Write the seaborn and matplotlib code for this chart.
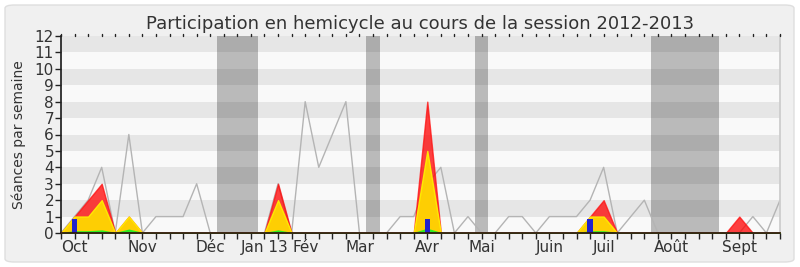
import matplotlib
matplotlib.use("Agg")
import matplotlib.pyplot as plt
from matplotlib.patches import FancyBboxPatch
import numpy as np
import pandas as pd
import seaborn as sns

# Weekly values for the 2012-2013 session (week index 0..53)
weeks = list(range(54))
seances_total = [0, 1, 2, 4, 0, 6, 0, 1, 1, 1, 3, 0, 0, 0, 0, 0, 3, 0, 8, 4,
                 6, 8, 0, 0, 0, 1, 1, 3, 4, 0, 1, 0, 0, 1, 1, 0, 1, 1, 1, 2,
                 4, 0, 1, 2, 0, 0, 0, 0, 0, 0, 0, 1, 0, 2]
presences = [0, 1, 2, 3, 0, 1, 0, 0, 0, 0, 0, 0, 0, 0, 0, 0, 3, 0, 0, 0,
             0, 0, 0, 0, 0, 0, 0, 8, 0, 0, 0, 0, 0, 0, 0, 0, 0, 0, 0, 1,
             2, 0, 0, 0, 0, 0, 0, 0, 0, 0, 1, 0, 0, 0]
interventions = [0, 1, 1, 2, 0, 1, 0, 0, 0, 0, 0, 0, 0, 0, 0, 0, 2, 0, 0, 0,
                 0, 0, 0, 0, 0, 0, 0, 5, 0, 0, 0, 0, 0, 0, 0, 0, 0, 0, 0, 1,
                 1, 0, 0, 0, 0, 0, 0, 0, 0, 0, 0, 0, 0, 0]
questions = [0, 0.1, 0.1, 0.15, 0, 0.2, 0, 0, 0, 0, 0, 0, 0, 0, 0, 0, 0.15, 0, 0, 0,
             0, 0, 0, 0, 0, 0, 0, 0.25, 0, 0, 0, 0, 0, 0, 0, 0, 0, 0, 0, 0.1,
             0.1, 0, 0, 0, 0, 0, 0, 0, 0, 0, 0, 0, 0, 0]
rapports = [0, 0.85, 0, 0, 0, 0, 0, 0, 0, 0, 0, 0, 0, 0, 0, 0, 0, 0, 0, 0,
            0, 0, 0, 0, 0, 0, 0, 0.85, 0, 0, 0, 0, 0, 0, 0, 0, 0, 0, 0, 0.85,
            0, 0, 0, 0, 0, 0, 0, 0, 0, 0, 0, 0, 0, 0]

month_weeks = [1, 6, 11, 15, 18, 22, 27, 31, 36, 40, 45, 50]
month_labels = ["Oct", "Nov", "Déc", "Jan 13", "Fév", "Mar", "Avr", "Mai",
                "Juin", "Juil", "Août", "Sept"]
vacances = [(11.5, 14.5), (22.5, 23.5), (30.5, 31.5), (43.5, 48.5)]

df = pd.DataFrame({"semaine": weeks, "total": seances_total,
                   "presences": presences, "interventions": interventions,
                   "questions": questions, "rapports": rapports})

sns.set_theme(style="white")
plt.rcParams["font.family"] = ["DejaVu Sans"]
text_color = "#333333"

fig = plt.figure(figsize=(8, 2.67), dpi=100, facecolor="white")
frame = FancyBboxPatch((5 / 800, 5 / 267), 789 / 800, 257 / 267,
                       boxstyle="round,pad=0,rounding_size=0.012",
                       transform=fig.transFigure, facecolor="#F0F0F0",
                       edgecolor="#DEDEDE", linewidth=1, zorder=-10)
fig.patches.append(frame)

ax = fig.add_axes([61 / 800, 34 / 267, 719 / 800, 197 / 267])
ax.set_zorder(1)
ax.set_facecolor("#F9F9F9")

# horizontal stripes
for lo in range(1, 12, 2):
    ax.axhspan(lo, lo + 1, color="#E6E6E6", zorder=0, lw=0)

# holiday periods
for a, b in vacances:
    ax.axvspan(a, b, color="#000000", alpha=0.25, lw=0, zorder=1)

# total sessions per week
sns.lineplot(data=df, x="semaine", y="total", color="#B4B4B4", lw=1,
             ax=ax, zorder=2)

ax.fill_between(df["semaine"], 0, df["presences"], color="#FF0000",
                alpha=0.75, lw=1, edgecolor="#FF1010", zorder=3)
ax.fill_between(df["semaine"], 0, df["interventions"], color="#FFD700",
                alpha=0.95, lw=1, edgecolor="#FFEE00", zorder=4)
ax.fill_between(df["semaine"], 0, df["questions"], color="#22EE22",
                alpha=0.9, lw=1, zorder=5)
ax.bar(df["semaine"], df["rapports"], width=0.38, color="#2222CC",
       zorder=6, lw=0)

ax.set_xlim(0, 53)
ax.set_ylim(0, 12)
ax.set_yticks(range(13))
ax.set_xticks(month_weeks)
ax.set_xticklabels(month_labels)
ax.set_xticks(weeks, minor=True)
ax.tick_params(axis="both", which="both", direction="out", length=4,
               width=1, color="#222222", labelsize=11, labelcolor=text_color,
               pad=1)
ax.tick_params(axis="x", which="both", top=True, bottom=True,
               labeltop=False)
ax.tick_params(axis="y", left=True)
# short dotted marks along the top edge
for w in weeks:
    ax.plot([w, w], [1.0, 1.012], transform=ax.get_xaxis_transform(),
            color="#222222", lw=1, clip_on=False, zorder=8)
ax.tick_params(axis="x", which="both", top=False)

ax.spines["top"].set_visible(False)
ax.spines["right"].set_color("#CCCCCC")
ax.spines["left"].set_color("#222222")
ax.spines["bottom"].set_color("#331111")
ax.spines["bottom"].set_zorder(7)

ax.set_xlabel("")
ax.set_ylabel("Séances par semaine", fontsize=10, color=text_color,
              labelpad=6)
ax.set_title("Participation en hemicycle au cours de la session 2012-2013",
             fontsize=13, color=text_color, pad=5)

fig.savefig("out.png", dpi=100, facecolor=fig.get_facecolor())
